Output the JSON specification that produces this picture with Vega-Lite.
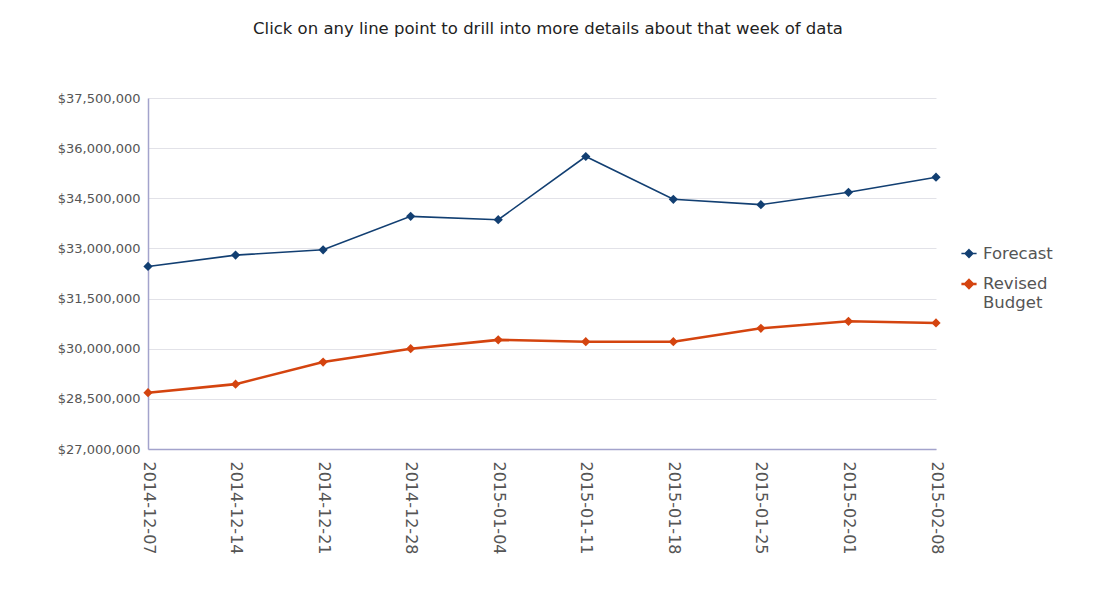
{
  "$schema": "https://vega.github.io/schema/vega-lite/v6.json",
  "width": 788,
  "height": 351,
  "autosize": {"type": "none"},
  "padding": {"left": 148, "top": 98, "right": 166, "bottom": 150},
  "background": "white",
  "title": {
    "text": "Click on any line point to drill into more details about that week of data",
    "font": "DejaVu Sans",
    "fontSize": 16.5,
    "fontWeight": "normal",
    "color": "#222222",
    "anchor": "middle",
    "frame": "group",
    "dx": 6,
    "offset": 55
  },
  "data": {
    "values": [
      {"week": "2014-12-07", "series": "Forecast", "amount": 32460000},
      {"week": "2014-12-14", "series": "Forecast", "amount": 32800000},
      {"week": "2014-12-21", "series": "Forecast", "amount": 32960000},
      {"week": "2014-12-28", "series": "Forecast", "amount": 33960000},
      {"week": "2015-01-04", "series": "Forecast", "amount": 33860000},
      {"week": "2015-01-11", "series": "Forecast", "amount": 35750000},
      {"week": "2015-01-18", "series": "Forecast", "amount": 34470000},
      {"week": "2015-01-25", "series": "Forecast", "amount": 34310000},
      {"week": "2015-02-01", "series": "Forecast", "amount": 34680000},
      {"week": "2015-02-08", "series": "Forecast", "amount": 35130000},
      {"week": "2014-12-07", "series": "Revised Budget", "amount": 28685000},
      {"week": "2014-12-14", "series": "Revised Budget", "amount": 28940000},
      {"week": "2014-12-21", "series": "Revised Budget", "amount": 29600000},
      {"week": "2014-12-28", "series": "Revised Budget", "amount": 30000000},
      {"week": "2015-01-04", "series": "Revised Budget", "amount": 30265000},
      {"week": "2015-01-11", "series": "Revised Budget", "amount": 30210000},
      {"week": "2015-01-18", "series": "Revised Budget", "amount": 30210000},
      {"week": "2015-01-25", "series": "Revised Budget", "amount": 30610000},
      {"week": "2015-02-01", "series": "Revised Budget", "amount": 30820000},
      {"week": "2015-02-08", "series": "Revised Budget", "amount": 30770000}
    ]
  },
  "mark": {"type": "line", "point": {"shape": "diamond", "size": 85, "filled": true}},
  "encoding": {
    "x": {
      "field": "week",
      "type": "ordinal",
      "scale": {"type": "point", "padding": 0},
      "axis": {
        "title": null,
        "labelAngle": 90,
        "labelFont": "DejaVu Sans",
        "labelFontSize": 16,
        "labelColor": "#555555",
        "labelPadding": 12,
        "labelLimit": 200,
        "ticks": false,
        "grid": false,
        "domainColor": "#a3a3cc",
        "domainWidth": 1.5
      }
    },
    "y": {
      "field": "amount",
      "type": "quantitative",
      "scale": {"domain": [27000000, 37500000], "nice": false, "zero": false},
      "axis": {
        "title": null,
        "values": [27000000, 28500000, 30000000, 31500000, 33000000, 34500000, 36000000, 37500000],
        "format": "$,.0f",
        "labelFont": "DejaVu Sans",
        "labelFontSize": 13,
        "labelColor": "#555555",
        "labelPadding": 8,
        "ticks": false,
        "gridColor": "#e2e2e8",
        "domainColor": "#a3a3cc",
        "domainWidth": 1.5
      }
    },
    "color": {
      "field": "series",
      "type": "nominal",
      "scale": {"domain": ["Forecast", "Revised Budget"], "range": ["#123f72", "#d4440f"]},
      "legend": {
        "title": null,
        "orient": "none",
        "legendX": 812,
        "legendY": 147,
        "labelFont": "DejaVu Sans",
        "labelFontSize": 16.5,
        "labelColor": "#555555",
        "labelExpr": "datum.label == 'Revised Budget' ? ['Revised', 'Budget'] : datum.label",
        "symbolType": "M-1,0H1M0,-0.5L0.5,0L0,0.5L-0.5,0Z",
        "symbolSize": 230,
        "symbolStrokeWidth": 2,
        "rowPadding": 13,
        "labelOffset": 5,
        "encode": {"symbols": {"update": {"fill": {"scale": "color", "field": "value"}}}}
      }
    },
    "strokeWidth": {
      "field": "series",
      "type": "nominal",
      "scale": {"domain": ["Forecast", "Revised Budget"], "range": [1.6, 2.6]},
      "legend": null
    }
  },
  "config": {
    "view": {"stroke": null}
  }
}
